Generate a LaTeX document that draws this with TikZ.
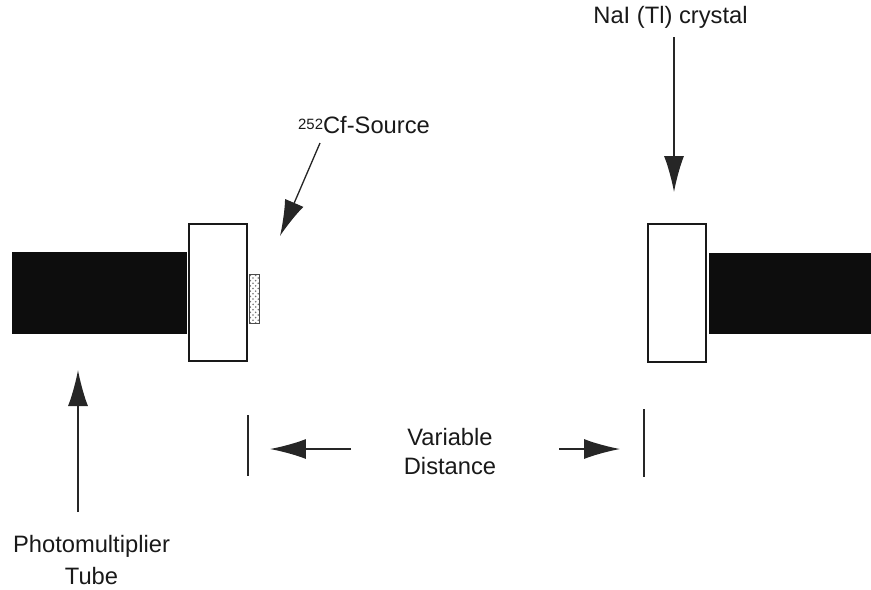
\documentclass[tikz,border=0pt]{standalone}
\usepackage{fontspec}
\setmainfont{Liberation Sans}
\usetikzlibrary{arrows.meta,patterns}
\tikzset{
	lbl/.style={font=\fontsize{13.5}{15.5}\selectfont, align=center, text=black!90, inner sep=0pt},
	tube/.style={fill=black!95, draw=none},
	crystal/.style={draw=black!90, line width=0.75pt, fill=white},
	pointer/.style={draw=black!85, line width=0.75pt, -{Latex[length=0.72cm, width=0.4cm]}},
	bar/.style={draw=black!85, line width=0.75pt}
}
\begin{document}
\begin{tikzpicture}[x=0.02cm, y=-0.02cm]
	\useasboundingbox (0,0) rectangle (871,589);
	
		\node[tube, minimum width=3.5cm, minimum height=1.64cm, inner sep=0pt] (tubeL) at (99.5,293) {};
		\node[tube, minimum width=3.24cm, minimum height=1.62cm, inner sep=0pt] (tubeR) at (790,293.5) {};
		\node[crystal, minimum width=1.16cm, minimum height=2.74cm, inner sep=0pt] (boxL) at (218,292.5) {};
		\node[crystal, minimum width=1.16cm, minimum height=2.76cm, inner sep=0pt] (boxR) at (677,293) {};
		\node[draw=black!70, fill=black!8, pattern=crosshatch dots, pattern color=black!55, line width=0.4pt, minimum width=0.2cm, minimum height=0.98cm, inner sep=0pt] (source) at (254,298.5) {};
		
		\node[lbl] (naitext) at (670.5,17) {NaI (Tl) crystal};
		\node[lbl] (cftext) at (364,125) {{\fontsize{8.5}{10}\selectfont\raisebox{0.55ex}{252}}Cf-Source};
		\node[lbl] (vartext) at (450,451.5) {Variable\\[1pt]Distance};
		\node[lbl] (pmttext) at (91.5,560) {Photomultiplier\\[3pt]Tube};
		
		\coordinate (naistart) at (674,37);
		\coordinate (naitip) at (674,192);
		\coordinate (cfstart) at (320,143);
		\coordinate (cftip) at (280,236);
		\coordinate (varstartL) at (351,449);
		\coordinate (vartipL) at (270,449);
		\coordinate (varstartR) at (559,449);
		\coordinate (vartipR) at (620,449);
		\coordinate (pmtstart) at (78,512);
		\coordinate (pmttip) at (78,370);
		
		\coordinate (barLa) at (248,415);
		\coordinate (barLb) at (248,476);
		\coordinate (barRa) at (644,409);
		\coordinate (barRb) at (644,477);
		
		\draw[pointer] (naistart) -- (naitip);
		\draw[pointer] (cfstart) -- (cftip);
		\draw[pointer] (varstartL) -- (vartipL);
		\draw[pointer] (varstartR) -- (vartipR);
		\draw[pointer] (pmtstart) -- (pmttip);
		
		\draw[bar] (barLa) -- (barLb);
		\draw[bar] (barRa) -- (barRb);
\end{tikzpicture}
\end{document}
